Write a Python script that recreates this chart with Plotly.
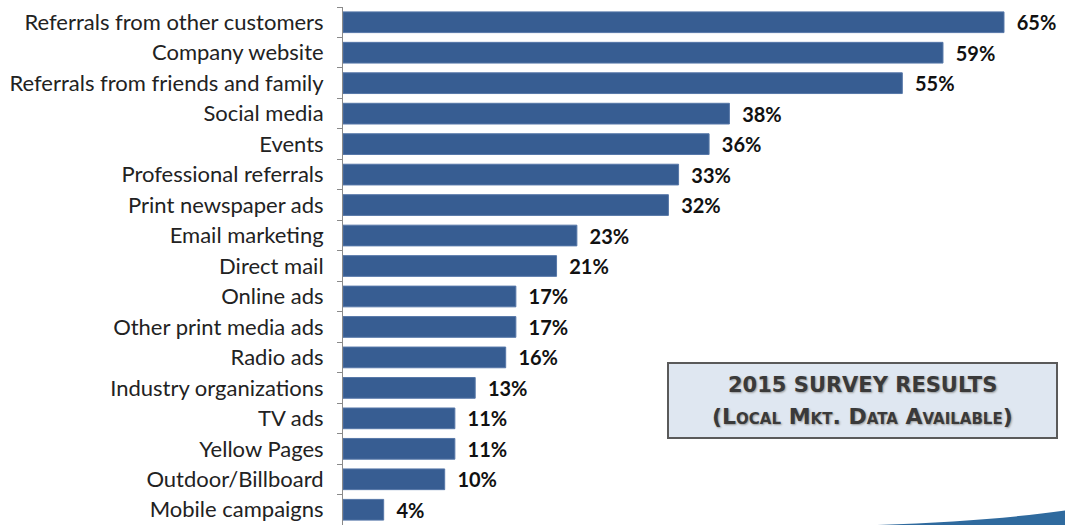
import plotly.graph_objects as go

categories = [
    "Referrals from other customers", "Company website", "Referrals from friends and family",
    "Social media", "Events", "Professional referrals", "Print newspaper ads",
    "Email marketing", "Direct mail", "Online ads", "Other print media ads",
    "Radio ads", "Industry organizations", "TV ads", "Yellow Pages",
    "Outdoor/Billboard", "Mobile campaigns",
]
values = [65, 59, 55, 38, 36, 33, 32, 23, 21, 17, 17, 16, 13, 11, 11, 10, 4]

BAR = "#375d92"
FONT = "Lato, 'Open Sans', sans-serif"

fig = go.Figure(go.Bar(
    y=categories, x=values, orientation="h",
    marker=dict(color=BAR, line=dict(color="#5677a8", width=1)),
    texttemplate="  %{x}%", textposition="outside", cliponaxis=False,
    constraintext="none",
    textfont=dict(family=FONT, size=20, color="#111111", weight="bold"),
    width=0.68,
))

fig.update_layout(
    width=1065, height=525,
    margin=dict(l=343, r=0, t=7, b=0),
    paper_bgcolor="white", plot_bgcolor="white",
    showlegend=False,
    xaxis=dict(range=[0, 71], visible=False, fixedrange=True),
    yaxis=dict(
        autorange="reversed", type="category",
        showline=True, linecolor="#8a8a8a", linewidth=1,
        ticks="outside", tickson="boundaries", ticklen=5, tickcolor="#8a8a8a",
        ticklabelstandoff=14,
        tickfont=dict(family=FONT, size=22, color="#222222"),
        showgrid=False, zeroline=False,
    ),
)

# Survey note box
fig.add_shape(type="rect", xref="paper", yref="paper",
              x0=(668 - 343) / 722, x1=(1057 - 343) / 722,
              y0=1 - (438 - 7) / 518, y1=1 - (363 - 7) / 518,
              fillcolor="#dfe7f1", line=dict(color="#5a5a5a", width=2), layer="above")
box_cx = ((668 + 1057) / 2 - 343) / 722
for txt, ypix, sz in [("2015 SURVEY RESULTS", 385, 21), ("(Local Mkt. Data Available)", 416, 22)]:
    fig.add_annotation(xref="paper", yref="paper", x=box_cx, y=1 - (ypix - 7) / 518,
                       xanchor="center", yanchor="middle",
                       text=txt, showarrow=False,
                       font=dict(family="'DejaVu Sans', sans-serif", size=sz, color="#3a3a3a",
                                 weight="bold", variant="small-caps",
                                 shadow="1px 1px 2px #9a9a9a"))

# Blue swoosh along the bottom-right edge
fig.add_shape(type="path", xref="paper", yref="paper", layer="above",
              path="M 0.74 0 Q 0.9 0.008 1.0 0.028 L 1.0 0 Z",
              fillcolor="#2f6a9e", line=dict(width=0))

fig.write_html("out.html")
